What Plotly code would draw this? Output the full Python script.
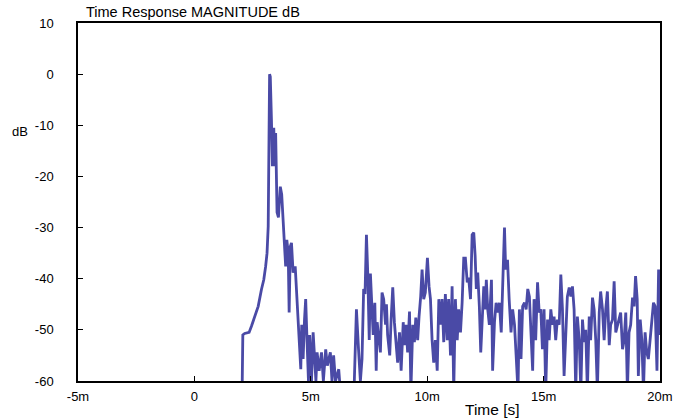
import plotly.graph_objects as go

# time in ms, magnitude in dB (values below -60 run off the bottom of the plot)
time_ms = [
    2.05, 2.08, 2.16, 2.35, 2.45, 2.59, 2.74, 2.88, 2.98, 3.06, 3.12, 3.17, 3.19,
    3.22, 3.23, 3.26,
    3.31, 3.35, 3.41, 3.45, 3.49, 3.55, 3.61, 3.69, 3.75, 3.81, 3.87, 3.92, 3.97,
    4.03, 4.07, 4.12, 4.17, 4.24, 4.33, 4.38, 4.45, 4.52, 4.57, 4.61, 4.67, 4.73,
    4.78, 4.84, 4.90, 4.95, 5.03, 5.10, 5.17, 5.22, 5.27, 5.36, 5.46, 5.54, 5.64,
    5.71, 5.84, 5.91, 5.98, 6.06, 6.20, 6.27, 6.49, 6.79, 6.87, 6.96, 7.05, 7.13,
    7.20, 7.27, 7.33, 7.39, 7.45, 7.51, 7.56, 7.62, 7.68, 7.75, 7.81, 7.85, 7.92,
    7.99, 8.06, 8.13, 8.21, 8.25, 8.30, 8.39, 8.45, 8.52, 8.59, 8.66, 8.73, 8.81,
    8.88, 8.97, 9.02, 9.09, 9.16, 9.24, 9.30, 9.38, 9.45, 9.51, 9.59, 9.65, 9.72,
    9.78, 9.85, 9.92, 10.01, 10.08, 10.14, 10.21, 10.28, 10.35, 10.43, 10.50,
    10.57, 10.64, 10.71, 10.78, 10.86, 10.92, 11.00, 11.07, 11.14, 11.21, 11.29,
    11.35, 11.43, 11.50, 11.57, 11.64, 11.72, 11.78, 11.86, 11.93, 12.00, 12.06,
    12.11, 12.17, 12.24, 12.30, 12.37, 12.43, 12.49, 12.54, 12.60, 12.67, 12.76,
    12.81, 12.89, 12.96, 13.03, 13.10, 13.18, 13.26, 13.32, 13.37, 13.45, 13.52,
    13.60, 13.67, 13.75, 13.82, 13.90, 13.96, 14.03, 14.10, 14.18, 14.25, 14.32,
    14.39, 14.46, 14.53, 14.59, 14.66, 14.74, 14.81, 14.88, 14.95, 15.02, 15.09,
    15.17, 15.24, 15.31, 15.38, 15.45, 15.52, 15.59, 15.67, 15.74, 15.81, 15.88,
    15.95, 16.02, 16.10, 16.17, 16.24, 16.31, 16.38, 16.45, 16.53, 16.60, 16.67,
    16.74, 16.81, 16.88, 16.96, 17.02, 17.10, 17.17, 17.24, 17.31, 17.39, 17.45,
    17.53, 17.60, 17.67, 17.74, 17.82, 17.88, 17.96, 18.03, 18.10, 18.17, 18.24,
    18.31, 18.39, 18.46, 18.53, 18.60, 18.67, 18.74, 18.82, 18.89, 18.95, 19.02,
    19.07, 19.15, 19.22, 19.29, 19.36, 19.43, 19.50, 19.58, 19.65, 19.72, 19.79,
    19.87, 19.94, 20.00,
]
mag_db = [
    -62, -51, -50.7, -50.5, -49.3, -47.3, -45.4, -42.1, -40.2, -37.6, -35, -29.8, -23.3,
    -10.3, 0, -0.5,
    -9, -18, -10.5, -18, -11.5, -27, -28, -22, -23.5, -28, -32.4, -37.6, -32.4,
    -35, -46.6, -33.7, -33, -38.8, -37.6, -42, -45.4, -52, -57.7, -49, -55.7, -48,
    -44, -52.4, -60, -51, -60, -50.5, -55.7, -60, -54.4, -58, -54.4, -60, -53.8,
    -57, -54.4, -60, -55, -60, -57.7, -62, -63, -63, -60, -46, -53.8, -60,
    -55.7, -42, -43, -31.4, -39.5, -52, -39, -44, -51, -44.7, -58, -48.5, -52,
    -54.4, -42.7, -44, -49, -45, -51, -55, -48, -41.7, -48.5, -52, -56.4, -50.5,
    -58, -48.5, -53, -49, -54.4, -46.4, -62, -49, -52.4, -47.6, -52, -47.4, -43.5,
    -38.2, -44, -42.7, -35.9, -41.5, -44, -52, -56.4, -52, -58, -44,
    -49, -44, -52.4, -43, -52, -44, -55, -41.5, -62, -44, -52,
    -46, -50.5, -44.7, -36, -36, -40.7, -39.8, -44, -31.4, -31, -35.6,
    -42, -38.8, -45.4, -54.4, -46, -41.5, -46, -40.2, -46, -49, -40.2,
    -58, -48.5, -44.7, -46.6, -44.7, -50.5, -37.6, -30, -38.2, -36.3, -44,
    -50.5, -46, -49, -55, -62, -46, -55.7, -45.4, -44.7, -46, -42,
    -43.5, -50.5, -58, -44, -52, -40.7, -46.6, -46, -53.8, -46, -62,
    -48, -52, -46, -49, -47.4, -52, -48, -49, -39.2, -46, -59,
    -50.5, -43.5, -41.7, -43.5, -41.5, -46, -62, -47.4, -52, -62, -48,
    -52.4, -50, -62, -47.4, -52, -43.7, -46, -52, -62, -46.6, -42.5,
    -46, -52, -46, -42.5, -53, -49, -48, -40.5, -50.5, -49, -48,
    -46.6, -53.8, -52, -46.6, -62, -50.5, -49, -43.7, -45.4, -39.5, -44,
    -59, -48, -52, -62, -50.5, -54.4, -55.7, -52, -47.4, -44.7, -45.4,
    -58, -38.2, -51,
]

x_ticks = [-5, 0, 5, 10, 15, 20]
x_tick_labels = ["-5m", "0", "5m", "10m", "15m", "20m"]
y_ticks = [10, 0, -10, -20, -30, -40, -50, -60]
y_tick_labels = ["10", "0", "-10", "-20", "-30", "-40", "-50", "-60"]

W, H = 688, 419

fig = go.Figure()
fig.add_trace(go.Scatter(x=time_ms, y=mag_db, mode="lines",
                         line=dict(color="#4a4aa6", width=2.8),
                         showlegend=False))

axis_common = dict(showline=True, linecolor="black", linewidth=1.5, mirror=True,
                   ticks="inside", ticklen=5, tickcolor="black", showgrid=False,
                   zeroline=False, tickfont=dict(size=13, color="black"))

fig.update_layout(
    width=W, height=H,
    margin=dict(l=78, r=28, t=23, b=38),
    paper_bgcolor="white", plot_bgcolor="white",
    font=dict(family="Liberation Sans, Arial, sans-serif", size=13, color="black"),
    title=dict(text="Time Response MAGNITUDE dB", x=86 / W, xanchor="left",
               y=1 - 12 / H, yanchor="middle", font=dict(size=14.5)),
    xaxis=dict(range=[-5, 20], tickvals=x_ticks, ticktext=x_tick_labels,
               ticklabelstandoff=3, **axis_common),
    yaxis=dict(range=[-60, 10], tickvals=y_ticks, ticktext=y_tick_labels,
               ticklabelstandoff=20, **axis_common),
    annotations=[
        dict(text="dB", xref="paper", yref="paper", x=(20 - 78) / 582,
             y=(381 - 131) / 358, xanchor="center", yanchor="middle",
             showarrow=False, font=dict(size=13)),
        dict(text="Time [s]", xref="paper", yref="paper", x=(492 - 78) / 582,
             y=(381 - 409) / 358, xanchor="center", yanchor="middle",
             showarrow=False, font=dict(size=15.5)),
    ],
)

# drop the default body margin so the figure sits at the window's corner
fig.write_html("out.html", config={"displayModeBar": False},
               post_script="document.body.style.margin='0';")
